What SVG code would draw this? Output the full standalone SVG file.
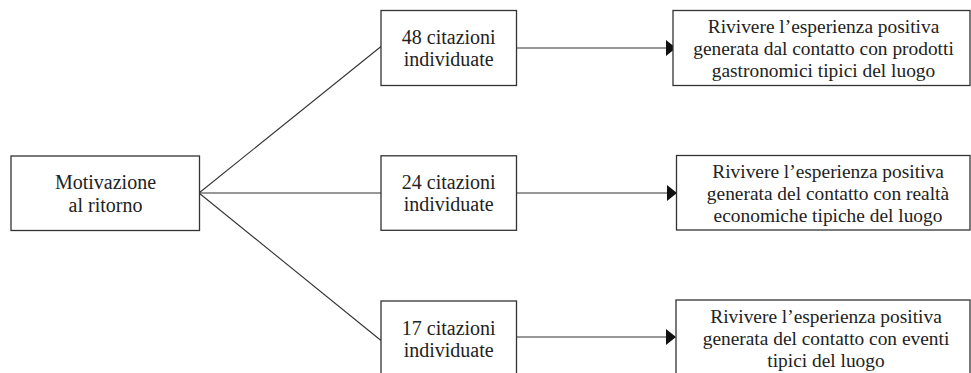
<svg xmlns="http://www.w3.org/2000/svg" width="971" height="373" viewBox="0 0 971 373">
<style>
.box{fill:#fff;stroke:#333;stroke-width:1.3}
.ln{stroke:#333;stroke-width:1.1;fill:none}
.ah{fill:#111}
text{font-family:"Liberation Serif","Times New Roman",serif;fill:#222;text-anchor:middle}
.t20{font-size:20px}
.t19{font-size:19.4px}
</style>
<rect width="971" height="373" fill="#fff"/>
<g id="connectors">
<line class="ln" x1="199" y1="193" x2="381" y2="46.5"/>
<line class="ln" x1="199" y1="193" x2="381" y2="193"/>
<line class="ln" x1="199" y1="193" x2="381" y2="340.5"/>
<line class="ln" x1="516.5" y1="48" x2="667" y2="48"/>
<polygon class="ah" points="666,40 676,48 666,56"/>
<line class="ln" x1="516.5" y1="193" x2="667" y2="193"/>
<polygon class="ah" points="667,185 677,193 667,201"/>
<line class="ln" x1="516.5" y1="337" x2="667" y2="337"/>
<polygon class="ah" points="666,329 676,337 666,345"/>
</g>
<g id="motivazione">
<rect class="box" x="11" y="156" width="188.5" height="74.5"/>
<text class="t20" x="105.5" y="189">Motivazione</text>
<text class="t20" x="105.5" y="211.5">al ritorno</text>
</g>
<g id="c48">
<rect class="box" x="381" y="10.5" width="135.5" height="75"/>
<text class="t20" x="448.7" y="44">48 citazioni</text>
<text class="t20" x="448.7" y="66">individuate</text>
</g>
<g id="c24">
<rect class="box" x="381" y="155.8" width="135.5" height="74.5"/>
<text class="t20" x="448.7" y="189">24 citazioni</text>
<text class="t20" x="448.7" y="211">individuate</text>
</g>
<g id="c17">
<rect class="box" x="381" y="301" width="135.5" height="80"/>
<text class="t20" x="448.7" y="334.7">17 citazioni</text>
<text class="t20" x="448.7" y="356.7">individuate</text>
</g>
<g id="r1">
<rect class="box" x="673" y="10.5" width="297" height="75"/>
<text class="t19" x="823.5" y="33.3">Rivivere l’esperienza positiva</text>
<text class="t19" x="823.5" y="55.3">generata dal contatto con prodotti</text>
<text class="t19" x="823.5" y="77.3">gastronomici tipici del luogo</text>
</g>
<g id="r2">
<rect class="box" x="676.5" y="155.5" width="293.5" height="74.5"/>
<text class="t19" x="828" y="178.3">Rivivere l’esperienza positiva</text>
<text class="t19" x="828" y="200">generata del contatto con realtà</text>
<text class="t19" x="828" y="221.7">economiche tipiche del luogo</text>
</g>
<g id="r3">
<rect class="box" x="676" y="300" width="294" height="80"/>
<text class="t19" x="826" y="322.7">Rivivere l’esperienza positiva</text>
<text class="t19" x="826" y="345">generata del contatto con eventi</text>
<text class="t19" x="826" y="366.7">tipici del luogo</text>
</g>
</svg>
